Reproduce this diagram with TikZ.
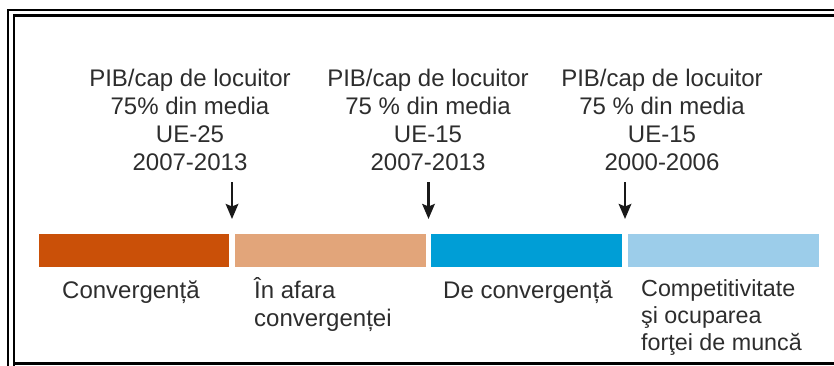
\documentclass[tikz,border=0pt]{standalone}
\usepackage{fontspec}
\setmainfont{Liberation Sans}
\usetikzlibrary{arrows.meta}
\definecolor{barA}{RGB}{202,80,8}
\definecolor{barB}{RGB}{226,165,122}
\definecolor{barC}{RGB}{0,158,214}
\definecolor{barD}{RGB}{156,205,234}
\definecolor{txt}{RGB}{45,45,45}
\tikzset{
  lbl/.style={font=\fontsize{24}{28}\selectfont, text=txt, inner sep=0pt},
  bar/.style={inner sep=0pt, minimum height=33pt},
  marker/.style={line width=2.6pt, draw=black!90, -{Stealth[length=15pt,width=12.5pt,inset=2.5pt]}},
  frame/.style={line width=2.4pt, draw=black}
}
\begin{document}
\begin{tikzpicture}[x=1pt,y=-1pt]
\useasboundingbox (0,0) rectangle (834,365);
% frame
\draw[frame, line width=2.8pt] (8,366) -- (8,10) -- (836,10);
\draw[frame, line width=2.2pt] (14,366) -- (14,15.5) -- (836,15.5);
\draw[frame, line width=2.4pt] (14,363.5) -- (836,363.5);

% top texts
\node[lbl, anchor=base] (a1) at (190,86) {PIB/cap de locuitor};
\node[lbl, anchor=base] (a2) at (190,114) {75\% din media};
\node[lbl, anchor=base] (a3) at (190,142) {UE-25};
\node[lbl, anchor=base] (a4) at (190,170) {2007-2013};

\node[lbl, anchor=base] (b1) at (428,86) {PIB/cap de locuitor};
\node[lbl, anchor=base] (b2) at (428,114) {75 \% din media};
\node[lbl, anchor=base] (b3) at (428,142) {UE-15};
\node[lbl, anchor=base] (b4) at (428,170) {2007-2013};

\node[lbl, anchor=base] (c1) at (662,86) {PIB/cap de locuitor};
\node[lbl, anchor=base] (c2) at (662,114) {75 \% din media};
\node[lbl, anchor=base] (c3) at (662,142) {UE-15};
\node[lbl, anchor=base] (c4) at (662,170) {2000-2006};

% arrows
\coordinate (s1) at (232,182); \coordinate (e1) at (232,219);
\coordinate (s2) at (428.5,182); \coordinate (e2) at (428.5,219);
\coordinate (s3) at (625,182); \coordinate (e3) at (625,219);
\draw[marker] (s1) -- (e1);
\draw[marker] (s2) -- (e2);
\draw[marker] (s3) -- (e3);

% bars
\node[bar, fill=barA, minimum width=190pt] (r1) at (134,250.5) {};
\node[bar, fill=barB, minimum width=191pt] (r2) at (330.5,250.5) {};
\node[bar, fill=barC, minimum width=191pt] (r3) at (526.5,250.5) {};
\node[bar, fill=barD, minimum width=191pt] (r4) at (723.5,250.5) {};

% bottom labels
\node[lbl, anchor=base west] (l1) at (62,298) {Convergență};
\node[lbl, anchor=base west] (l2a) at (254,298) {În afara};
\node[lbl, anchor=base west] (l2b) at (254,326) {convergenței};
\node[lbl, anchor=base west] (l3) at (443,298) {De convergență};
\node[lbl, anchor=base west, font=\fontsize{23.3}{27}\selectfont] (l4a) at (641,296) {Competitivitate};
\node[lbl, anchor=base west, font=\fontsize{23.3}{27}\selectfont] (l4b) at (641,323) {şi ocuparea};
\node[lbl, anchor=base west, font=\fontsize{23.3}{27}\selectfont] (l4c) at (641,350) {forţei de muncă};
\end{tikzpicture}
\end{document}
